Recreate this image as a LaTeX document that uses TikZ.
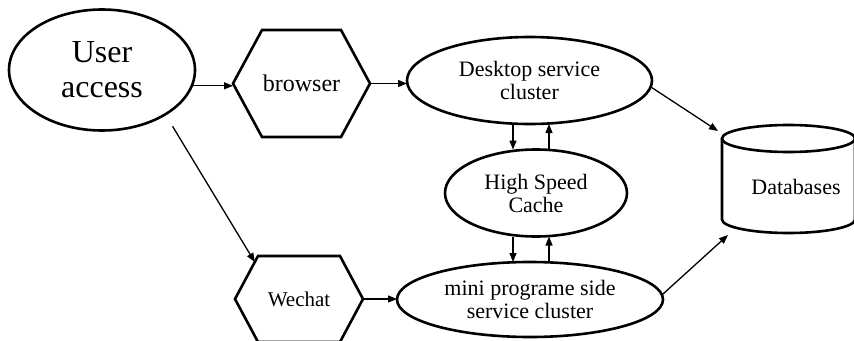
\documentclass[tikz,border=0pt]{standalone}
\usepackage{fontspec}
\setmainfont{Liberation Serif}
\usetikzlibrary{shapes.geometric,arrows.meta,calc}
\begin{document}
\begin{tikzpicture}[x=1pt,y=-1pt,
  outline/.style={draw=black,line width=2.6pt},
  oval/.style={ellipse,outline,inner sep=0pt,outer sep=0pt,align=center},
  hexbox/.style={rectangle,inner sep=0pt,outer sep=0pt,align=center},
  flow/.style={line width=1.3pt,-{Triangle[length=9pt,width=7pt]}},
  big/.style={font=\fontsize{32}{35}\selectfont},
  mid/.style={font=\fontsize{22}{23}\selectfont},
]
\useasboundingbox (0,0) rectangle (854,340);
\fill[white] (0,0) rectangle (854,340);

% hexagon outline drawn around a rectangular node
\newcommand{\hexoutline}[2]{%
  \draw[outline,line join=miter]
    ($(#1.north west)+(#2,0)$) -- ($(#1.north east)+(-#2,0)$) -- (#1.east)
    -- ($(#1.south east)+(-#2,0)$) -- ($(#1.south west)+(#2,0)$) -- (#1.west) -- cycle;}

% nodes
\node[oval,big,minimum width=186pt,minimum height=121pt] (user) at (102,70) {User\\access};
\node[hexbox,font=\fontsize{24}{26}\selectfont,minimum width=137pt,minimum height=107pt] (browser) at (301.5,83.5) {browser};
\hexoutline{browser}{29}
\node[hexbox,font=\fontsize{21}{23}\selectfont,minimum width=128pt,minimum height=86pt] (wechat) at (299,299) {Wechat};
\hexoutline{wechat}{23}
\coordinate (wechat-tl) at ($(wechat.north west)+(23,0)$);

\node[oval,mid,minimum width=245pt,minimum height=87pt] (desk) at (529.5,80.5) {Desktop service\\cluster};
\node[oval,mid,minimum width=182pt,minimum height=87pt] (cache) at (536,193) {High Speed\\Cache};
\node[oval,mid,minimum width=266pt,minimum height=75pt] (mini) at (530,299.5) {mini programe side\\service cluster};

% database cylinder
\node[hexbox,minimum width=133pt,minimum height=108pt] (db) at (788.5,179) {};
\draw[outline]
  ($(db.north west)+(0,13.5)$) -- ($(db.south west)+(0,-13.5)$)
  arc[start angle=180,end angle=360,x radius=66.5pt,y radius=13.5pt]
  -- ($(db.north east)+(0,13.5)$);
\draw[outline] ($(db.north)+(0,13.5)$) ellipse[x radius=66.5pt,y radius=13.5pt];
\node[mid] (dbtext) at ($(db.center)+(7.5,8)$) {Databases};

% connectors
\draw[flow] (user.-10) -- (user.-10 -| browser.west);
\draw[flow,shorten <=14pt] (user.-35) -- ($(wechat-tl)!0.14!(wechat.west)$);
\draw[flow] (browser.east) -- (browser.east -| desk.west);
\draw[flow] (wechat.east) -- (wechat.east -| mini.west);

\draw[flow] ($(desk.south)+(-16.5,0)$) -- ($(cache.north)+(-23,0)$);
\draw[flow] ($(cache.north)+(13,0)$) -- ($(desk.south)+(19.5,0)$);
\draw[flow] ($(cache.south)+(-23,0)$) -- ($(mini.north)+(-17,0)$);
\draw[flow] ($(mini.north)+(19,0)$) -- ($(cache.south)+(13,0)$);

\draw[flow] (desk.-3) -- ($(db.north west)+(-4,6)$);
\draw[flow] (mini.2) -- ($(db.south west)+(6,2)$);
\end{tikzpicture}
\end{document}
